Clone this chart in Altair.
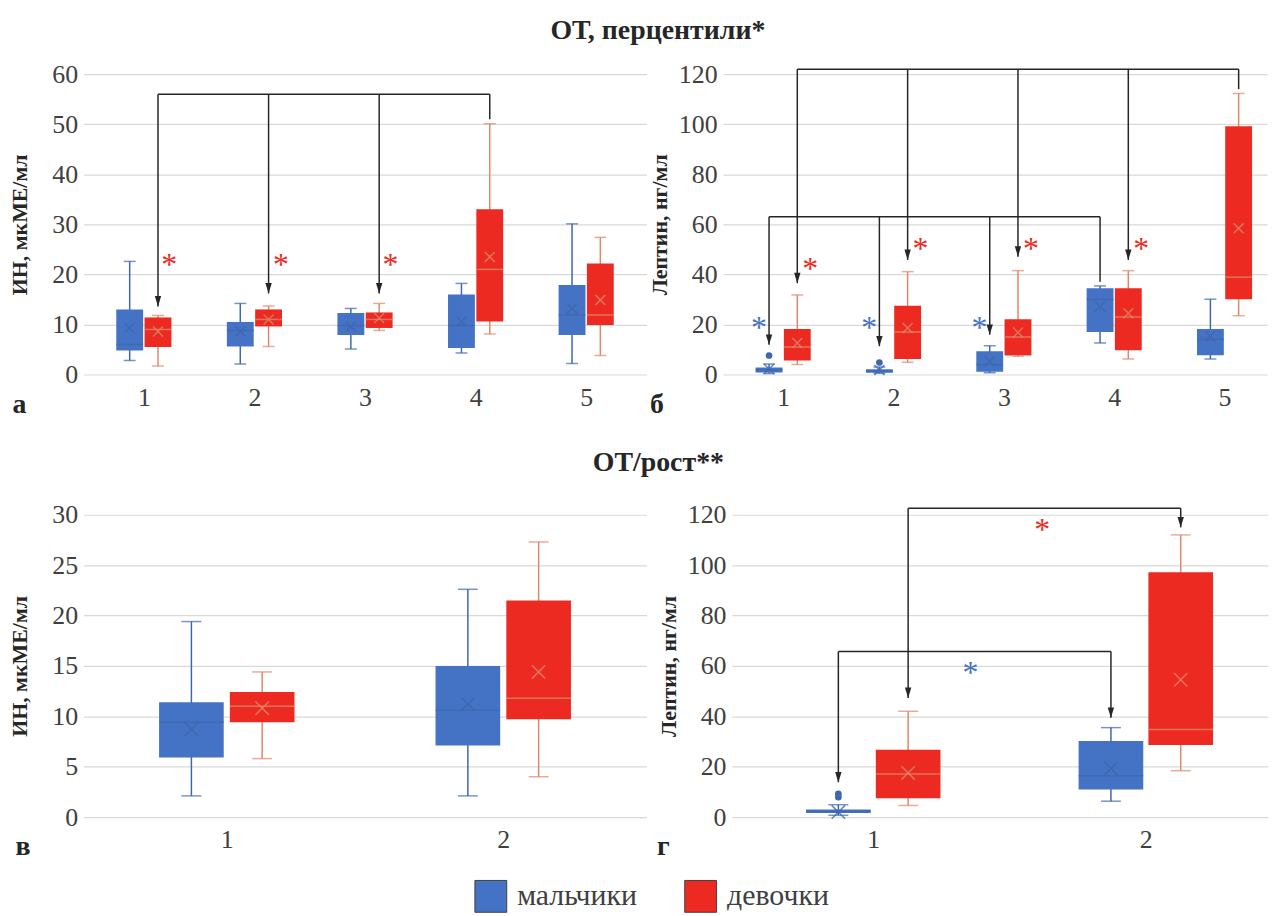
import altair as alt
import pandas as pd

SEXES = ["мальчики", "девочки"]
BLUE, RED = "#4472C4", "#EC2A22"
LINE_COL = {"мальчики": "#3F66AE", "девочки": "#E0876A"}
INK = "#262626"
FONT = "Liberation Serif"

# ---------- panel а : ИН by ОТ percentile group ----------
a_groups = [1, 2, 3, 4, 5]
a_boys_lo = [2.8, 2.1, 5.1, 4.3, 2.2]
a_boys_q1 = [4.8, 5.6, 7.9, 5.3, 7.9]
a_boys_med = [6.0, 8.8, 9.8, 9.8, 11.9]
a_boys_q3 = [13.0, 10.5, 12.3, 16.0, 17.9]
a_boys_hi = [22.6, 14.2, 13.2, 18.2, 30.1]
a_boys_mean = [9.3, 8.6, 9.6, 10.6, 13.2]
a_girls_lo = [1.7, 5.6, 8.8, 8.1, 3.8]
a_girls_q1 = [5.5, 9.6, 9.3, 10.6, 9.9]
a_girls_med = [9.0, 11.0, 11.0, 21.0, 11.9]
a_girls_q3 = [11.4, 13.0, 12.4, 33.0, 22.2]
a_girls_hi = [11.8, 13.7, 14.2, 50.1, 27.4]
a_girls_mean = [8.6, 11.0, 11.3, 23.5, 14.9]
a_out_grp, a_out_sex, a_out_val = [], [], []
a_brk_id = [0, 0, 0, 0]
a_brk_grp = [4, 1, 2, 3]
a_brk_sex = ["девочки"] * 4
a_brk_tip = [51.0, 13.6, 16.2, 16.2]
a_brk_arrow = [False, True, True, True]
a_brk_level = [56.0]
a_star_x = [1.23, 2.24, 3.23]
a_star_y = [23.3, 23.3, 23.3]
a_star_sex = ["девочки"] * 3

# ---------- panel б : Лептин by ОТ percentile group ----------
b_groups = [1, 2, 3, 4, 5]
b_boys_lo = [0.4, 0.5, 0.7, 12.6, 6.2]
b_boys_q1 = [0.8, 0.7, 1.1, 17.0, 7.7]
b_boys_med = [1.8, 1.4, 4.0, 30.0, 14.0]
b_boys_q3 = [2.8, 2.1, 9.3, 34.5, 18.2]
b_boys_hi = [4.2, 3.0, 11.5, 35.4, 30.1]
b_boys_mean = [2.2, 1.8, 5.3, 27.2, 15.3]
b_girls_lo = [4.0, 4.9, 7.3, 6.2, 23.5]
b_girls_q1 = [5.6, 6.2, 7.6, 9.7, 30.1]
b_girls_med = [11.0, 17.0, 15.0, 23.0, 38.9]
b_girls_q3 = [18.2, 27.5, 22.1, 34.5, 99.2]
b_girls_hi = [31.8, 41.1, 41.5, 41.5, 112.3]
b_girls_mean = [12.6, 18.6, 16.8, 24.5, 58.4]
b_out_grp = [1, 2]
b_out_sex = ["мальчики", "мальчики"]
b_out_val = [7.6, 4.8]
b_brk_id = [0, 0, 0, 0, 0, 1, 1, 1, 1]
b_brk_grp = [5, 1, 2, 3, 4, 4, 1, 2, 3]
b_brk_sex = ["девочки"] * 5 + ["мальчики"] * 4
b_brk_tip = [114.0, 36.5, 45.8, 47.1, 45.8, 37.1, 11.9, 11.3, 15.9]
b_brk_arrow = [False, True, True, True, True, False, True, True, True]
b_brk_level = [122.0, 63.0]
b_star_x = [0.78, 1.78, 2.78, 1.245, 2.245, 3.245, 4.245]
b_star_y = [21.2, 21.2, 21.2, 45.0, 53.0, 53.0, 53.0]
b_star_sex = ["мальчики"] * 3 + ["девочки"] * 4

# ---------- panel в : ИН by ОТ/рост group ----------
c_groups = [1, 2]
c_boys_lo = [2.1, 2.1]
c_boys_q1 = [5.9, 7.1]
c_boys_med = [9.4, 10.6]
c_boys_q3 = [11.4, 15.0]
c_boys_hi = [19.4, 22.6]
c_boys_mean = [8.7, 11.2]
c_girls_lo = [5.8, 4.0]
c_girls_q1 = [9.4, 9.7]
c_girls_med = [11.0, 11.8]
c_girls_q3 = [12.4, 21.5]
c_girls_hi = [14.4, 27.3]
c_girls_mean = [10.8, 14.4]
c_out_grp, c_out_sex, c_out_val = [], [], []
c_brk_id, c_brk_grp, c_brk_sex, c_brk_tip, c_brk_arrow, c_brk_level = [], [], [], [], [], []
c_star_x, c_star_y, c_star_sex = [], [], []

# ---------- panel г : Лептин by ОТ/рост group ----------
d_groups = [1, 2]
d_boys_lo = [0.7, 6.3]
d_boys_q1 = [1.6, 10.9]
d_boys_med = [2.2, 16.4]
d_boys_q3 = [3.0, 30.2]
d_boys_hi = [4.9, 35.5]
d_boys_mean = [2.0, 19.3]
d_girls_lo = [4.6, 18.4]
d_girls_q1 = [7.5, 28.6]
d_girls_med = [17.1, 34.8]
d_girls_q3 = [26.7, 97.2]
d_girls_hi = [42.0, 112.0]
d_girls_mean = [17.5, 54.5]
d_out_grp = [1, 1]
d_out_sex = ["мальчики", "мальчики"]
d_out_val = [9.2, 7.9]
d_brk_id = [0, 0, 1, 1]
d_brk_grp = [1, 2, 1, 2]
d_brk_sex = ["девочки", "девочки", "мальчики", "мальчики"]
d_brk_tip = [47.3, 115.0, 13.8, 39.4]
d_brk_arrow = [True, True, True, True]
d_brk_level = [122.6, 65.7]
d_star_x = [1.62, 1.357]
d_star_y = [116.5, 59.8]
d_star_sex = ["девочки", "мальчики"]

OFFSET = {"мальчики": -0.128, "девочки": 0.128}
ARROW = "M-0.8,-2.6L0.8,-2.6L0,0Z"
XMARK = "M-1,-1L1,1M-1,1L1,-1"

color_scale = alt.Scale(domain=SEXES, range=[BLUE, RED])
legend = alt.Legend(
    title=None, orient="none", legendX=393, legendY=810, direction="horizontal",
    symbolType="square", symbolSize=1024, symbolStrokeColor="#404040", symbolStrokeWidth=1,
    symbolOpacity=1, labelFontSize=30, labelFont=FONT, labelColor="#404040",
    columnPadding=45, labelOffset=10,
)


def box_frame(groups, b, g):
    rows = []
    for sex, vals in (("мальчики", b), ("девочки", g)):
        lo, q1, med, q3, hi, mean = vals
        for i, grp in enumerate(groups):
            rows.append(dict(grp=grp, sex=sex, lo=lo[i], q1=q1[i], med=med[i],
                             q3=q3[i], hi=hi[i], mean=mean[i]))
    df = pd.DataFrame(rows)
    df["xpos"] = df["grp"] + df["sex"].map(OFFSET)
    return df


def panel(groups, b, g, outl, brk, stars, ymax, yvals, xdom, width, height,
          ytitle, letter, letter_dx, box_px, cap_px, mean_size):
    df = box_frame(groups, b, g)
    xaxis = alt.Axis(values=groups, format="d", grid=False, ticks=False, domain=False,
                     labelFontSize=26, labelColor="#404040", labelPadding=10, labelFont=FONT,
                     title=letter, titleX=letter_dx, titleY=38, titleAlign="left",
                     titleBaseline="alphabetic", titleFontSize=28, titleFontWeight="bold",
                     titleColor=INK, titleFont=FONT)
    yaxis = alt.Axis(values=yvals, grid=True, gridColor="#D9D9D9", gridWidth=1.2,
                     ticks=False, domain=False, labelFontSize=26, labelColor="#404040",
                     labelFont=FONT, labelPadding=6, minExtent=44, maxExtent=44,
                     labelOverlap=False, title=ytitle, titleFontSize=22, titleFontWeight="bold",
                     titleColor=INK, titleFont=FONT, titlePadding=8)
    xs = alt.Scale(domain=xdom, nice=False, zero=False)
    ys = alt.Scale(domain=[0, ymax], nice=False)

    def X(f):
        return alt.X(f, type="quantitative", scale=xs, axis=xaxis)

    def Y(f):
        return alt.Y(f, type="quantitative", scale=ys, axis=yaxis)

    color = alt.Color("sex:N", scale=color_scale, legend=legend)

    layers = []
    for sex in SEXES:
        sub = alt.Chart(df[df["sex"] == sex])
        lc = LINE_COL[sex]
        layers.append(sub.mark_rule(strokeWidth=1.5, color=lc).encode(x=X("xpos"), y=Y("lo"), y2="hi"))
    layers.append(alt.Chart(df).mark_bar(size=box_px, opacity=1).encode(
        x=X("xpos"), y=Y("q1"), y2="q3", color=color))
    for sex in SEXES:
        sub = alt.Chart(df[df["sex"] == sex])
        lc = LINE_COL[sex]
        layers += [
            sub.mark_tick(orient="horizontal", size=box_px, thickness=1.5, opacity=0.8, color=lc).encode(
                x=X("xpos"), y=Y("med")),
            sub.mark_tick(orient="horizontal", size=cap_px, thickness=1.5, color=lc).encode(
                x=X("xpos"), y=Y("lo")),
            sub.mark_tick(orient="horizontal", size=cap_px, thickness=1.5, color=lc).encode(
                x=X("xpos"), y=Y("hi")),
            sub.mark_point(shape=XMARK, filled=False, size=mean_size, strokeWidth=1.5, opacity=0.8,
                           color=lc).encode(x=X("xpos"), y=Y("mean")),
        ]
    og, osx, ov = outl
    if og:
        odf = pd.DataFrame(dict(grp=og, sex=osx, val=ov))
        odf["xpos"] = odf["grp"] + odf["sex"].map(OFFSET)
        layers.append(alt.Chart(odf).mark_circle(size=45, color=LINE_COL["мальчики"], opacity=1).encode(
            x=X("xpos"), y=Y("val")))
    bid, bgrp, bsex, btip, barrow, blevel = brk
    if bid:
        bdf = pd.DataFrame(dict(bid=bid, grp=bgrp, sex=bsex, tip=btip, arrow=barrow))
        bdf["xpos"] = bdf["grp"] + bdf["sex"].map(OFFSET)
        bdf["level"] = [blevel[i] for i in bid]
        hdf = bdf.groupby("bid").agg(x1=("xpos", "min"), x2=("xpos", "max"), level=("level", "first")).reset_index()
        layers += [
            alt.Chart(hdf).mark_rule(color=INK, strokeWidth=1.5).encode(x=X("x1"), x2="x2", y=Y("level")),
            alt.Chart(bdf).mark_rule(color=INK, strokeWidth=1.5).encode(x=X("xpos"), y=Y("level"), y2="tip"),
            alt.Chart(bdf[bdf["arrow"]]).mark_point(shape=ARROW, filled=True, size=64, color=INK, opacity=1).encode(
                x=X("xpos"), y=Y("tip")),
        ]
    sx, sy, ss = stars
    if sx:
        sdf = pd.DataFrame(dict(x=sx, y=sy, sex=ss, t=["*"] * len(sx)))
        layers.append(alt.Chart(sdf).mark_text(fontSize=32, font=FONT, baseline="middle", dy=7).encode(
            x=X("x"), y=Y("y"), text="t:N", color=color))
    return alt.layer(*layers).properties(width=width, height=height)


pa = panel(a_groups,
           (a_boys_lo, a_boys_q1, a_boys_med, a_boys_q3, a_boys_hi, a_boys_mean),
           (a_girls_lo, a_girls_q1, a_girls_med, a_girls_q3, a_girls_hi, a_girls_mean),
           (a_out_grp, a_out_sex, a_out_val),
           (a_brk_id, a_brk_grp, a_brk_sex, a_brk_tip, a_brk_arrow, a_brk_level),
           (a_star_x, a_star_y, a_star_sex),
           60, [0, 10, 20, 30, 40, 50, 60], [0.5, 5.5], 566, 302,
           "ИН, мкМЕ/мл", "а", -72, 27, 12, 100)
pb = panel(b_groups,
           (b_boys_lo, b_boys_q1, b_boys_med, b_boys_q3, b_boys_hi, b_boys_mean),
           (b_girls_lo, b_girls_q1, b_girls_med, b_girls_q3, b_girls_hi, b_girls_mean),
           (b_out_grp, b_out_sex, b_out_val),
           (b_brk_id, b_brk_grp, b_brk_sex, b_brk_tip, b_brk_arrow, b_brk_level),
           (b_star_x, b_star_y, b_star_sex),
           120, [0, 20, 40, 60, 80, 100, 120], [0.5, 5.34], 547, 302,
           "Лептин, нг/мл", "б", -74, 27, 12, 100)
pc = panel(c_groups,
           (c_boys_lo, c_boys_q1, c_boys_med, c_boys_q3, c_boys_hi, c_boys_mean),
           (c_girls_lo, c_girls_q1, c_girls_med, c_girls_q3, c_girls_hi, c_girls_mean),
           (c_out_grp, c_out_sex, c_out_val),
           (c_brk_id, c_brk_grp, c_brk_sex, c_brk_tip, c_brk_arrow, c_brk_level),
           (c_star_x, c_star_y, c_star_sex),
           30, [0, 5, 10, 15, 20, 25, 30], [0.5, 2.5], 566, 304,
           "ИН, мкМЕ/мл", "в", -69, 65, 20, 180)
pd_ = panel(d_groups,
            (d_boys_lo, d_boys_q1, d_boys_med, d_boys_q3, d_boys_hi, d_boys_mean),
            (d_girls_lo, d_girls_q1, d_girls_med, d_girls_q3, d_girls_hi, d_girls_mean),
            (d_out_grp, d_out_sex, d_out_val),
            (d_brk_id, d_brk_grp, d_brk_sex, d_brk_tip, d_brk_arrow, d_brk_level),
            (d_star_x, d_star_y, d_star_sex),
            120, [0, 20, 40, 60, 80, 100, 120], [0.5, 2.43], 539, 304,
            "Лептин, нг/мл", "г", -76, 65, 20, 180)

title1 = alt.TitleParams("ОТ, перцентили*", fontSize=28, font=FONT, fontWeight="bold",
                         color=INK, anchor="middle", offset=16, dx=20)
title2 = alt.TitleParams("ОТ/рост**", fontSize=28, font=FONT, fontWeight="bold",
                         color=INK, anchor="middle", offset=24, dx=20)

row1 = alt.hconcat(pa, pb, spacing=0).properties(title=title1)
row2 = alt.hconcat(pc, pd_, spacing=8).properties(title=title2)

chart = (
    alt.vconcat(row1, row2, spacing=30)
    .properties(padding={"left": 0, "top": 6, "right": 0, "bottom": 10})
    .configure(font=FONT)
    .configure_view(stroke="transparent")
)

chart.save("out.html", embed_options={"renderer": "svg", "actions": False})
